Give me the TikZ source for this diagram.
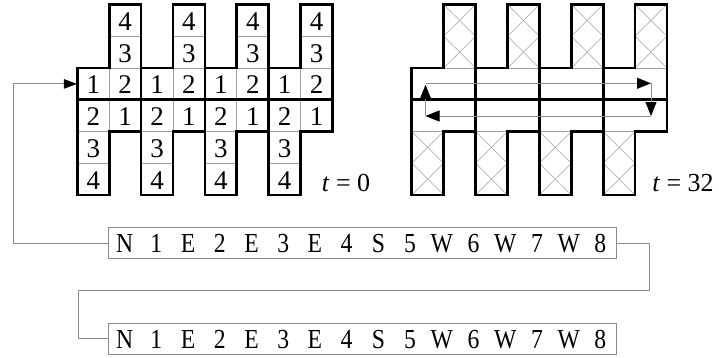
\documentclass[tikz,border=0pt]{standalone}
\usepackage{fontspec}
\setmainfont{Liberation Serif}
\usetikzlibrary{arrows.meta}
\begin{document}
\begin{tikzpicture}[x=1pt,y=-1pt,
  bigfont/.style={font=\fontsize{27}{31}\selectfont},
  lcell/.style={draw=gray!75, line width=0.8pt, minimum width=31.9pt, minimum height=31.75pt,
    inner sep=0pt, bigfont, text height=20pt, text depth=0pt},
  piece/.style={draw=black, line width=2.7pt},
  thin/.style={draw=gray!75, line width=0.8pt},
  xline/.style={draw=gray!60, line width=0.7pt},
  conn/.style={draw=gray!90, line width=0.9pt},
  tip/.style={-{Triangle[length=14pt,width=11pt,color=black]}},
  seqbox/.style={draw=gray!90, line width=0.9pt, minimum width=507.5pt, minimum height=31pt,
    inner sep=0pt, font=\fontsize{27.5}{31}\selectfont, text height=19.5pt, text depth=0pt},
  tlabel/.style={font=\fontsize{26}{30}\selectfont, inner sep=0pt}
]
\useasboundingbox (0,0) rectangle (719,357);
\def\cw{31.9}
% ---------- left grid (t = 0) ----------
\def\gx{77.3}
\foreach \c in {1,3,5,7} {
  \node[lcell] (L0\c) at ({\gx+(\c+0.5)*\cw},20.4) {4};
  \node[lcell] (L1\c) at ({\gx+(\c+0.5)*\cw},52.1) {3};
  \node[lcell] (L2\c) at ({\gx+(\c+0.5)*\cw},83.9) {2};
  \node[lcell] (L3\c) at ({\gx+(\c+0.5)*\cw},115.6) {1};
}
\foreach \c in {0,2,4,6} {
  \node[lcell] (L2\c) at ({\gx+(\c+0.5)*\cw},83.9) {1};
  \node[lcell] (L3\c) at ({\gx+(\c+0.5)*\cw},115.6) {2};
  \node[lcell] (L4\c) at ({\gx+(\c+0.5)*\cw},147.4) {3};
  \node[lcell] (L5\c) at ({\gx+(\c+0.5)*\cw},179.1) {4};
}
% ---------- right grid (t = 32): hatched arms ----------
\def\hx{411.8}
\foreach \c in {1,3,5,7} {
  \pgfmathsetmacro\xa{\hx+\c*\cw}
  \pgfmathsetmacro\xb{\hx+(\c+1)*\cw}
  \draw[xline] (\xa,4.5) -- (\xb,36.25) (\xb,4.5) -- (\xa,36.25)
               (\xa,36.25) -- (\xb,68) (\xb,36.25) -- (\xa,68);
  \draw[thin] (\xa,68) -- (\xb,68);
}
\foreach \c in {0,2,4,6} {
  \pgfmathsetmacro\xa{\hx+\c*\cw}
  \pgfmathsetmacro\xb{\hx+(\c+1)*\cw}
  \draw[xline] (\xa,131.5) -- (\xb,163.25) (\xb,131.5) -- (\xa,163.25)
               (\xa,163.25) -- (\xb,195) (\xb,163.25) -- (\xa,195);
  \draw[thin] (\xa,131.5) -- (\xb,131.5);
}
% ---------- thick piece outlines for both grids ----------
\foreach \g in {77.3,411.8} {
  \foreach \k in {0,1,2,3} {
    \pgfmathsetmacro\a{\g+2*\k*\cw}
    \pgfmathsetmacro\b{\a+\cw}
    \pgfmathsetmacro\e{\a+2*\cw}
    \draw[piece] (\a,68) -- (\b,68) -- (\b,4.5) -- (\e,4.5) -- (\e,99.75) -- (\a,99.75) -- cycle;
    \draw[piece] (\a,99.75) -- (\e,99.75) -- (\e,131.5) -- (\b,131.5) -- (\b,195) -- (\a,195) -- cycle;
  }
}
% ---------- circulation arrows in right grid ----------
\coordinate (c1) at (425.5,83.3);
\coordinate (c2) at (651,83.3);
\coordinate (c3) at (651,116);
\coordinate (c4) at (425.5,116);
\draw[conn,tip] (c1) -- (c2);
\draw[conn,tip] (c2) -- (c3);
\draw[conn,tip] (c3) -- (c4);
\draw[conn,tip,shorten >=1.5pt] (c4) -- (c1);
% ---------- labels ----------
\node[tlabel] (t0) at (346,183) {\textit{t} = 0};
\node[tlabel] (t32) at (683,183) {\textit{t} = 32};
% ---------- sequence boxes ----------
\newcommand\slot[1]{\makebox[31.72pt]{\scalebox{0.86}[1]{#1}}}
\node[seqbox] (B1) at (362.5,243) {\slot{N}\slot{1}\slot{E}\slot{2}\slot{E}\slot{3}\slot{E}\slot{4}\slot{S}\slot{5}\slot{W}\slot{6}\slot{W}\slot{7}\slot{W}\slot{8}};
\node[seqbox] (B2) at (362.5,338.5) {\slot{N}\slot{1}\slot{E}\slot{2}\slot{E}\slot{3}\slot{E}\slot{4}\slot{S}\slot{5}\slot{W}\slot{6}\slot{W}\slot{7}\slot{W}\slot{8}};
% ---------- connectors ----------
\coordinate (k1) at (13,243);
\coordinate (k2) at (649,290.7);
\coordinate (k3) at (78.3,290.7);
\draw[conn,-{Triangle[length=13pt,width=9.5pt,color=black]}] (B1.west) -- (k1) |- (L20.west);
\draw[conn] (B1.east) -| (k2) -- (k3) |- (B2.west);
\end{tikzpicture}
\end{document}
